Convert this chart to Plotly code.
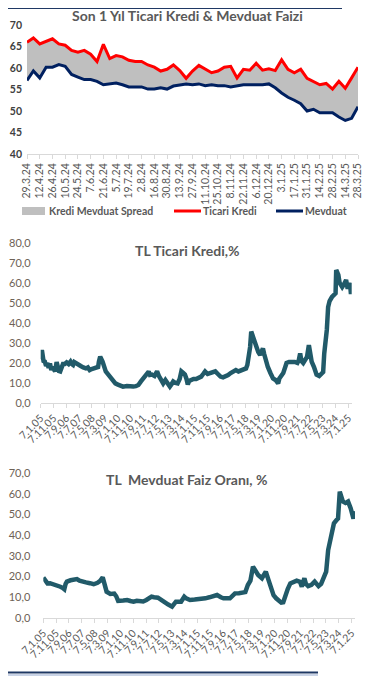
import pandas as pd
import plotly.graph_objects as go

# ---------------- Chart 1: weekly, last 1 year ----------------
week_dates = pd.date_range("2024-03-29", "2025-03-28", freq="7D")
ticari_kredi = [66.0, 67.0, 65.6, 66.2, 66.8, 65.6, 65.3, 64.1, 63.7, 64.1,
                63.2, 61.5, 65.5, 62.2, 62.9, 62.6, 61.8, 61.5, 61.5, 60.7,
                60.2, 59.3, 59.7, 60.7, 59.4, 57.6, 59.3, 60.6, 59.7, 58.9,
                59.3, 60.2, 60.4, 57.7, 59.7, 59.5, 61.1, 59.5, 59.8, 59.4,
                61.9, 59.7, 58.9, 59.7, 57.6, 56.9, 56.1, 56.4, 55.1, 56.9,
                55.3, 57.7, 60.2]
mevduat = [57.1, 59.3, 57.7, 60.2, 60.2, 60.8, 60.4, 58.5, 57.9, 57.3,
           57.3, 56.9, 56.1, 56.3, 56.5, 56.1, 55.6, 55.6, 55.6, 55.1,
           55.1, 55.4, 55.1, 55.8, 56.1, 56.3, 56.1, 56.3, 55.9, 56.1,
           55.9, 55.9, 55.6, 55.9, 56.1, 56.1, 56.1, 56.1, 56.3, 55.4,
           54.2, 53.2, 52.5, 51.7, 50.0, 50.4, 49.6, 49.6, 49.6, 48.6,
           47.8, 48.3, 51.0]
c1_tick_dates = list(week_dates[::2])
c1_tick_text = [f"{d.day}.{d.month}.{d.strftime('%y')}" for d in c1_tick_dates]
legend_names = ["Kredi Mevduat Spread", "Ticari Kredi", "Mevduat"]

# ---------------- Chart 2: TL Ticari Kredi ----------------
kredi_dates = ["2005-01-07", "2005-01-21", "2005-02-04", "2005-02-18", "2005-03-15", "2005-04-15",
               "2005-05-15", "2005-06-15", "2005-07-15", "2005-08-15", "2005-09-15", "2005-10-15",
               "2005-11-15", "2005-12-15", "2006-01-20", "2006-02-15", "2006-03-15", "2006-04-15",
               "2006-05-15", "2006-06-20", "2006-08-01", "2006-09-15", "2006-11-01", "2006-12-15",
               "2007-01-15", "2007-02-15", "2007-03-15", "2007-04-15", "2007-06-01", "2007-08-15",
               "2007-10-15", "2007-12-15", "2008-02-01", "2008-03-15", "2008-05-01", "2008-06-15",
               "2008-08-15", "2008-10-01", "2008-10-20", "2008-11-20", "2009-01-15", "2009-02-20",
               "2009-04-01", "2009-06-01", "2009-07-15", "2009-09-15", "2009-11-15", "2010-01-15",
               "2010-03-15", "2010-05-15", "2010-08-15", "2010-11-15", "2011-01-15", "2011-03-15",
               "2011-05-15", "2011-07-15", "2011-08-15", "2011-10-15", "2011-12-01", "2012-01-15",
               "2012-02-15", "2012-04-01", "2012-06-01", "2012-08-01", "2012-09-15", "2012-10-15",
               "2012-12-01", "2012-12-25", "2013-02-15", "2013-04-15", "2013-06-01", "2013-07-15",
               "2013-08-20", "2013-10-15", "2013-12-01", "2014-01-20", "2014-03-01", "2014-04-15",
               "2014-05-25", "2014-07-01", "2014-08-01", "2014-09-01", "2014-10-15", "2014-12-15",
               "2015-02-15", "2015-04-15", "2015-06-15", "2015-08-01", "2015-09-15", "2015-11-15",
               "2016-01-15", "2016-03-15", "2016-05-15", "2016-07-15", "2016-09-15", "2016-11-15",
               "2017-01-15", "2017-03-15", "2017-05-15", "2017-07-15", "2017-09-15", "2017-11-15",
               "2018-01-15", "2018-03-15", "2018-05-15", "2018-06-15", "2018-07-20", "2018-08-20",
               "2018-09-15", "2018-10-10", "2018-11-15", "2018-12-15", "2019-01-20", "2019-03-01",
               "2019-04-15", "2019-05-20", "2019-06-20", "2019-07-20", "2019-08-20", "2019-10-15",
               "2019-12-15", "2020-02-15", "2020-04-15", "2020-06-15", "2020-07-15", "2020-08-20",
               "2020-10-15", "2020-12-01", "2021-01-01", "2021-03-01", "2021-05-15", "2021-07-15",
               "2021-09-15", "2021-10-20", "2021-11-20", "2021-12-20", "2022-02-01", "2022-03-15",
               "2022-05-01", "2022-06-15", "2022-07-15", "2022-08-20", "2022-10-15", "2022-12-15",
               "2023-02-15", "2023-04-15", "2023-05-20", "2023-06-15", "2023-07-15", "2023-08-15",
               "2023-09-15", "2023-10-20", "2023-12-15", "2024-02-01", "2024-03-10", "2024-03-25",
               "2024-05-15", "2024-06-15", "2024-08-15", "2024-10-01", "2024-11-15", "2024-12-15",
               "2025-01-15", "2025-02-15", "2025-03-10", "2025-03-28"]
kredi_vals = [25.0, 22.0, 26.5, 21.5, 21.0, 20.7,
              18.5, 20.0, 17.5, 19.8, 16.5, 18.0,
              17.0, 15.8, 20.5, 18.0, 16.0, 15.8,
              17.0, 19.5, 19.5, 20.3, 19.5, 20.7,
              19.5, 19.0, 20.5, 20.0, 19.2, 18.5,
              17.8, 17.3, 17.8, 16.5, 17.0, 17.3,
              18.2, 18.0, 20.7, 23.2, 20.7, 18.5,
              15.8, 14.2, 13.0, 10.8, 9.8, 9.2,
              8.6, 8.2, 8.5, 8.2, 8.2, 8.4,
              9.0, 10.8, 11.5, 13.2, 14.5, 15.7,
              14.0, 14.2, 13.5, 15.8, 13.5, 12.3,
              10.8, 9.8, 11.5, 10.0, 8.2, 9.5,
              10.8, 10.0, 9.8, 12.0, 15.8, 15.0,
              14.2, 12.0, 9.2, 11.0, 11.5, 12.0,
              12.0, 12.5, 13.2, 14.5, 15.8, 14.5,
              15.0, 15.5, 15.8, 14.5, 13.2, 12.8,
              13.2, 14.0, 15.0, 15.5, 16.5, 15.8,
              16.5, 16.8, 17.3, 19.0, 24.0, 28.0,
              35.7, 34.0, 31.5, 29.0, 27.3, 25.5,
              24.0, 26.0, 27.3, 24.5, 21.5, 18.0,
              15.0, 12.3, 11.5, 9.8, 12.3, 13.5,
              15.0, 18.0, 20.0, 20.5, 20.7, 20.5,
              20.0, 21.5, 24.8, 21.0, 20.0, 21.5,
              23.0, 29.0, 25.0, 20.7, 18.0, 14.2,
              13.5, 15.0, 15.5, 24.8, 30.0, 36.5,
              48.0, 51.0, 53.0, 54.0, 54.8, 66.5,
              64.0, 60.0, 58.0, 59.5, 61.5, 58.0,
              58.0, 60.0, 54.5, 58.0]

# ---------------- Chart 3: TL Mevduat ----------------
mev_dates = ["2005-01-07", "2005-02-15", "2005-04-15", "2005-06-15", "2005-09-15", "2005-12-15",
             "2006-02-15", "2006-04-15", "2006-05-20", "2006-06-20", "2006-07-20", "2006-10-15",
             "2006-12-15", "2007-03-15", "2007-05-15", "2007-08-15", "2007-10-15", "2008-01-15",
             "2008-04-15", "2008-07-15", "2008-09-15", "2008-11-15", "2008-12-20", "2009-02-15",
             "2009-05-15", "2009-08-15", "2009-10-01", "2009-11-15", "2010-03-15", "2010-06-15",
             "2010-09-01", "2010-11-15", "2011-02-01", "2011-04-15", "2011-07-01", "2011-09-15",
             "2011-11-15", "2012-01-15", "2012-03-15", "2012-06-15", "2012-09-01", "2012-11-15",
             "2013-02-15", "2013-05-15", "2013-07-01", "2013-08-15", "2013-12-15", "2014-03-01",
             "2014-04-15", "2014-07-15", "2014-11-01", "2015-03-15", "2015-07-15", "2015-10-15",
             "2016-01-15", "2016-04-15", "2016-07-15", "2016-09-15", "2017-02-15", "2017-04-15",
             "2017-06-15", "2017-09-15", "2017-12-15", "2018-02-15", "2018-04-15", "2018-06-15",
             "2018-08-15", "2018-10-15", "2018-12-15", "2019-03-15", "2019-05-01", "2019-06-15",
             "2019-08-15", "2019-10-15", "2019-12-15", "2020-02-15", "2020-04-15", "2020-06-15",
             "2020-08-01", "2020-09-15", "2020-11-15", "2021-01-15", "2021-04-15", "2021-06-15",
             "2021-09-01", "2021-10-15", "2021-12-15", "2022-01-20", "2022-03-15", "2022-06-01",
             "2022-08-15", "2022-11-15", "2023-01-15", "2023-03-15", "2023-05-15", "2023-07-01",
             "2023-09-15", "2023-11-15", "2024-01-15", "2024-02-20", "2024-04-01", "2024-05-15",
             "2024-06-15", "2024-08-15", "2024-10-15", "2024-12-15", "2025-01-15", "2025-02-20",
             "2025-03-28"]
mev_vals = [19.5, 18.0, 16.7, 16.8, 16.3, 15.8,
            15.1, 14.5, 13.9, 16.5, 17.6, 18.2,
            18.4, 18.8, 18.0, 17.8, 17.2, 16.8,
            16.3, 17.0, 17.9, 19.6, 16.0, 12.7,
            11.6, 11.8, 10.5, 8.3, 8.5, 8.7,
            8.2, 7.9, 8.3, 8.3, 8.0, 8.7,
            9.5, 10.3, 10.0, 9.8, 8.8, 7.6,
            6.5, 5.5, 6.5, 7.9, 7.9, 10.3,
            9.5, 8.7, 8.9, 9.0, 9.5, 10.0,
            10.5, 11.1, 10.0, 9.5, 9.5, 10.5,
            11.9, 12.0, 12.4, 12.5, 15.9, 18.0,
            24.8, 22.5, 20.8, 19.2, 20.5, 22.4,
            18.5, 13.7, 11.0, 9.5, 8.5, 7.4,
            7.6, 11.1, 14.0, 16.7, 17.5, 18.0,
            17.5, 15.1, 19.2, 16.5, 15.4, 16.0,
            17.6, 15.4, 16.5, 19.2, 22.4, 32.8,
            40.1, 45.7, 47.3, 48.0, 61.0, 57.0,
            56.2, 55.5, 56.2, 53.0, 49.8, 48.0,
            51.5]

long_tick_dates = ["2005-01-07", "2005-11-07", "2006-09-07", "2007-07-07", "2008-05-07",
                   "2009-03-07", "2010-01-07", "2010-11-07", "2011-09-07", "2012-07-07",
                   "2013-05-07", "2014-03-07", "2015-01-07", "2015-11-07", "2016-09-07",
                   "2017-07-07", "2018-05-07", "2019-03-07", "2020-01-07", "2020-11-07",
                   "2021-09-07", "2022-07-07", "2023-05-07", "2024-03-07", "2025-01-07"]
long_tick_text = ["7.1.05", "7.11.05", "7.9.06", "7.7.07", "7.5.08", "7.3.09", "7.1.10",
                  "7.11.10", "7.9.11", "7.7.12", "7.5.13", "7.3.14", "7.1.15", "7.11.15",
                  "7.9.16", "7.7.17", "7.5.18", "7.3.19", "7.1.20", "7.11.20", "7.9.21",
                  "7.7.22", "7.5.23", "7.3.24", "7.1.25"]

c2_yticks = [0, 10, 20, 30, 40, 50, 60, 70, 80]
c3_yticks = [0, 10, 20, 30, 40, 50, 60, 70]

# The page body has an 8px default margin; the figure is sized and laid out so
# that, once offset by that margin, it sits on the 370x676 window like the original.
OFF = 8
W, H = 370 - OFF, 676 - OFF
FONT = "Lato, Carlito, Calibri, sans-serif"
TITLE_C = "#595959"
TICK_C = "#595959"
YT_C = "#6e6256"
AX_C = "#d9d9d9"
LINE_C = "#215A69"
SPREAD_C = "#BFBFBF"
RED_C = "#FF0000"
NAVY_C = "#002060"


def px(x):
    return (x - OFF) / W


def py(y):
    return 1 - (y - OFF) / H


fig = go.Figure()

# chart 1
fig.add_trace(go.Scatter(x=week_dates, y=mevduat, mode="lines", line=dict(width=0),
                         showlegend=False, hoverinfo="skip", xaxis="x", yaxis="y"))
fig.add_trace(go.Scatter(x=week_dates, y=ticari_kredi, mode="lines", line=dict(width=0),
                         fill="tonexty", fillcolor=SPREAD_C, name=legend_names[0],
                         showlegend=False, xaxis="x", yaxis="y"))
fig.add_trace(go.Scatter(x=week_dates, y=ticari_kredi, mode="lines",
                         line=dict(color=RED_C, width=3), name=legend_names[1],
                         showlegend=False, xaxis="x", yaxis="y"))
fig.add_trace(go.Scatter(x=week_dates, y=mevduat, mode="lines",
                         line=dict(color=NAVY_C, width=3), name=legend_names[2],
                         showlegend=False, xaxis="x", yaxis="y"))
# chart 2
fig.add_trace(go.Scatter(x=kredi_dates, y=kredi_vals, mode="lines",
                         line=dict(color=LINE_C, width=4.5), showlegend=False,
                         xaxis="x2", yaxis="y2"))
# chart 3
fig.add_trace(go.Scatter(x=mev_dates, y=mev_vals, mode="lines",
                         line=dict(color=LINE_C, width=4.5), showlegend=False,
                         xaxis="x3", yaxis="y3"))

common_x = dict(showgrid=False, zeroline=False, showline=True, linecolor=AX_C, linewidth=1,
                ticks="outside", ticklen=4, tickcolor=AX_C, automargin=False)
common_y = dict(showgrid=False, zeroline=False, ticks="", showline=False, automargin=False)

fig.update_layout(
    width=W, height=H, margin=dict(l=0, r=0, t=0, b=0, autoexpand=False),
    paper_bgcolor="white", plot_bgcolor="rgba(0,0,0,0)",
    font=dict(family=FONT, color=TICK_C),
    showlegend=False,
    xaxis=dict(domain=[px(27), px(358)], anchor="y", type="date",
               range=[week_dates[0], week_dates[-1]],
               tickvals=c1_tick_dates, ticktext=c1_tick_text, tickangle=-90,
               tickfont=dict(size=10.5, color=TICK_C), **common_x),
    yaxis=dict(domain=[py(154), py(25)], anchor="x", range=[40, 70],
               tickvals=[40, 45, 50, 55, 60, 65, 70], ticklabelstandoff=4,
               tickfont=dict(size=10.5, color="#404040", weight="bold"), **common_y),
    xaxis2=dict(domain=[px(40.7), px(351.7)], anchor="y2", type="date",
                range=["2005-01-07", "2025-03-28"],
                tickvals=long_tick_dates, ticktext=long_tick_text, tickangle=-45,
                tickfont=dict(size=10.5, color=TICK_C), **common_x),
    yaxis2=dict(domain=[py(403), py(243)], anchor="x2", range=[0, 80],
                tickvals=c2_yticks, ticktext=[f"{v},0" for v in c2_yticks],
                ticklabelstandoff=9,
                tickfont=dict(size=11, color=YT_C), **common_y),
    xaxis3=dict(domain=[px(43.3), px(355)], anchor="y3", type="date",
                range=["2005-01-07", "2025-03-28"],
                tickvals=long_tick_dates, ticktext=long_tick_text, tickangle=-45,
                tickfont=dict(size=10.5, color=TICK_C), **common_x),
    yaxis3=dict(domain=[py(618), py(473)], anchor="x3", range=[0, 70],
                tickvals=c3_yticks, ticktext=[f"{v},0" for v in c3_yticks],
                ticklabelstandoff=12,
                tickfont=dict(size=11, color=YT_C), **common_y),
)

titles = [
    ("Son 1 Yıl Ticari Kredi & Mevduat Faizi", 187, 16),
    ("TL Ticari Kredi,%", 187, 250),
    ("TL  Mevduat Faiz Oranı, %", 187, 479),
]
for text, tx, ty in titles:
    fig.add_annotation(text=text, x=px(tx), y=py(ty), xref="paper", yref="paper",
                       xanchor="center", yanchor="middle", showarrow=False,
                       font=dict(size=14, color=TITLE_C, family=FONT, weight="bold"))

# legend for chart 1 (drawn manually to match the original layout)
LEG_Y = 211
fig.add_shape(type="rect", xref="paper", yref="paper", x0=px(22), x1=px(45),
              y0=py(215), y1=py(207), fillcolor=SPREAD_C, line=dict(width=0))
fig.add_shape(type="line", xref="paper", yref="paper", x0=px(174), x1=px(201),
              y0=py(LEG_Y), y1=py(LEG_Y), line=dict(color=RED_C, width=3))
fig.add_shape(type="line", xref="paper", yref="paper", x0=px(276), x1=px(303),
              y0=py(LEG_Y), y1=py(LEG_Y), line=dict(color=NAVY_C, width=3))
for name, lx in zip(legend_names, [47, 201, 303]):
    fig.add_annotation(text=name, x=px(lx), y=py(LEG_Y), xref="paper", yref="paper",
                       xanchor="left", yanchor="middle", showarrow=False,
                       font=dict(size=10.5, color=TICK_C, family=FONT, weight="bold"))

# decorative page rules
fig.add_shape(type="line", xref="paper", yref="paper", x0=px(8), x1=px(342), y0=1, y1=1,
              line=dict(color="#1F3864", width=2))
fig.add_shape(type="line", xref="paper", yref="paper", x0=0, x1=px(318), y0=py(672.5), y1=py(672.5),
              line=dict(color="#1F3864", width=2))
fig.add_shape(type="line", xref="paper", yref="paper", x0=0, x1=px(318), y0=py(675), y1=py(675),
              line=dict(color="#c9d3e6", width=2))

fig.write_html("out.html")
